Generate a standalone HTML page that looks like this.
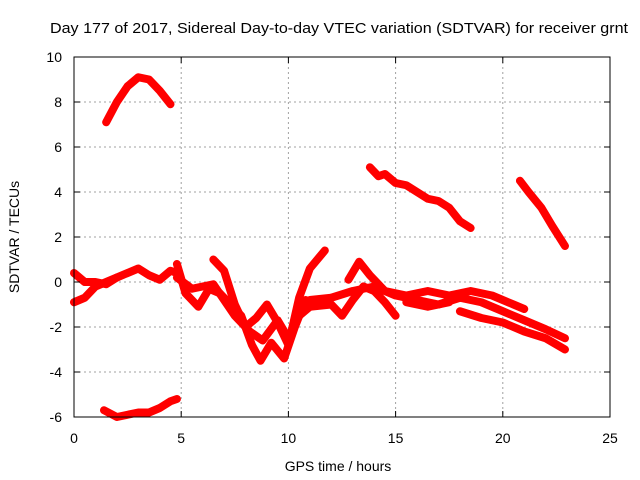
<!DOCTYPE html>
<html><head><meta charset="utf-8"><style>
body{margin:0;background:#fff}
svg{display:block;font-family:"Liberation Sans",sans-serif}
</style></head><body>
<svg id="chart" width="640" height="480">
<text x="339" y="33" font-size="15" text-anchor="middle" textLength="578" lengthAdjust="spacingAndGlyphs" fill="#000">Day 177 of 2017, Sidereal Day-to-day VTEC variation (SDTVAR) for receiver grnt</text>
<text x="338" y="471" font-size="14" text-anchor="middle">GPS time / hours</text>
<text transform="translate(19,237) rotate(-90)" font-size="14" text-anchor="middle">SDTVAR / TECUs</text>
<g id="grid"></g>
<g id="series"></g>
<rect x="74" y="57" width="536" height="360" fill="none" stroke="#000" stroke-width="1"/>
<g id="ticks"></g>
</svg>
<script>
const xTicks=[0,5,10,15,20,25];
const yTicks=[-6,-4,-2,0,2,4,6,8,10];
const arcX=[1.5,2,2.5,3,3.5,4,4.5];
const arcY=[7.1,8,8.7,9.1,9.0,8.5,7.9];
const bX=[13.8,14.2,14.5,15,15.5,16,16.5,17,17.5,18,18.5];
const bY=[5.1,4.7,4.8,4.4,4.3,4.0,3.7,3.6,3.3,2.7,2.4];
const cX=[20.8,21.2,21.8,22.3,22.9];
const cY=[4.5,4.0,3.3,2.5,1.6];
const dX=[1.4,2,2.5,3,3.5,4,4.5,4.8];
const dY=[-5.7,-6.0,-5.9,-5.8,-5.8,-5.6,-5.3,-5.2];
const e1X=[0,0.5,1,1.5,2,2.5,3,3.5,4,4.5,4.8];
const e1Y=[-0.9,-0.7,-0.2,0,0.2,0.4,0.6,0.3,0.1,0.5,0.4];
const e2X=[0,0.5,1,1.5,2];
const e2Y=[0.4,0,0,-0.1,0.2];
const fX=[4.8,5.2,5.8,6.3,6.8,7.3,7.8,8.3,8.7,9.2,9.8,10.3,10.8,11.3,12];
const fY=[0.8,-0.5,-1.1,-0.3,-0.5,-1.0,-1.5,-2.8,-3.5,-2.7,-3.4,-2.0,-0.8,-1,-0.7];
const gX=[6.5,7,7.5,8,8.5,9,9.5,10,10.5,11,11.7];
const gY=[1.0,0.5,-1.0,-2,-1.6,-1,-1.8,-2.8,-0.7,0.6,1.4];
const hX=[4.8,5.5,6.5,7.5,8.2,8.8,9.5,10,10.5,11,12,12.5,13,13.5,14,14.5,15];
const hY=[0.2,-0.3,-0.1,-1.5,-2.2,-2.6,-1.7,-2.5,-1.5,-1.1,-1.0,-1.5,-0.8,-0.2,-0.4,-0.9,-1.5];
const iX=[12.8,13.3,13.8,14.5,15.5,16.5,17.5,18.5,19.5,20.5,21];
const iY=[0.1,0.9,0.3,-0.4,-0.6,-0.4,-0.6,-0.4,-0.6,-1.0,-1.2];
const jX=[11,12,13,14,15,16,17,18,19,20,21,22,22.9];
const jY=[-0.8,-0.7,-0.4,-0.2,-0.6,-0.8,-1.0,-0.7,-0.9,-1.3,-1.7,-2.1,-2.5];
const kX=[18,19,20,21,22,22.9];
const kY=[-1.3,-1.6,-1.8,-2.2,-2.5,-3.0];
const lX=[15.5,16.5,17.5];
const lY=[-0.9,-1.1,-0.9];
const NS="http://www.w3.org/2000/svg";
const sx=v=>74+v*536/25;
const sy=v=>417-(v+6)*360/16;
const grid=document.getElementById('grid'),ticks=document.getElementById('ticks'),ser=document.getElementById('series');
function mk(t,a,p){const e=document.createElementNS(NS,t);for(const k in a)e.setAttribute(k,a[k]);p.appendChild(e);return e;}
xTicks.forEach(v=>{
  if(v>0&&v<25){const l=mk('line',{x1:sx(v),x2:sx(v),y1:57,y2:417,stroke:'#a0a0a0','stroke-dasharray':'2,3'},grid);
  
  }
  const t=mk('text',{x:sx(v),y:443,'font-size':14,'text-anchor':'middle'},ticks);t.textContent=v;
  
  
  mk('line',{x1:sx(v),x2:sx(v),y1:417,y2:411,stroke:'#000'},ticks);
  mk('line',{x1:sx(v),x2:sx(v),y1:57,y2:63,stroke:'#000'},ticks);
});
yTicks.forEach(v=>{
  if(v>-6&&v<10){const l=mk('line',{x1:74,x2:610,y1:sy(v),y2:sy(v),stroke:'#a0a0a0','stroke-dasharray':'2,3'},grid);
  
  }
  const t=mk('text',{x:62,y:sy(v)+5,'font-size':14,'text-anchor':'end'},ticks);t.textContent=v;
  
  
  mk('line',{x1:74,x2:80,y1:sy(v),y2:sy(v),stroke:'#000'},ticks);
  mk('line',{x1:610,x2:604,y1:sy(v),y2:sy(v),stroke:'#000'},ticks);
});
const all=[[arcX,arcY],[bX,bY],[cX,cY],[dX,dY],[e1X,e1Y],[e2X,e2Y],[fX,fY],[gX,gY],[hX,hY],[iX,iY],[jX,jY],[kX,kY],[lX,lY]];
all.forEach(([xs,ys])=>{
  const pts=xs.map((x,i)=>sx(x)+','+sy(ys[i])).join(' ');
  const p=mk('polyline',{points:pts,fill:'none',stroke:'#ff0000','stroke-width':8,'stroke-linejoin':'round','stroke-linecap':'round'},ser);
  
  
});
</script>
</body></html>
